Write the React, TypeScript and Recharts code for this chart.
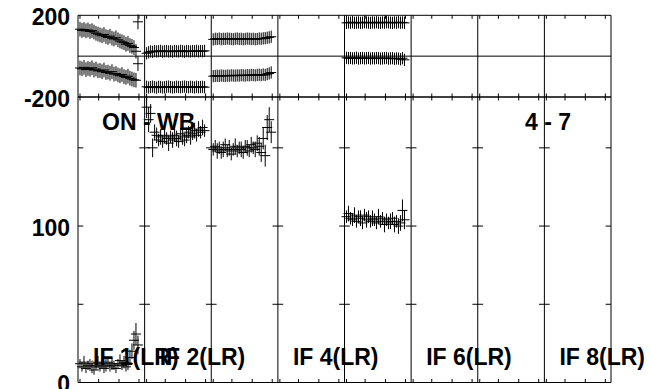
import React from 'react';
import { ScatterChart, Scatter, XAxis, YAxis, ReferenceLine, ErrorBar } from 'recharts';

// ---------- data ----------
const panelNames = ['IF 1', 'IF 2', 'IF 3', 'IF 4', 'IF 5', 'IF 6', 'IF 7', 'IF 8'];
const labelledPanels = [0, 1, 3, 5, 7];
const polarization = '(LR)';
const sourceLabel = 'ON - WB';
const baselineLabel = '4 - 7';

// time of each sample inside an IF panel (fraction of the panel's time range)
const times = [0.03, 0.06, 0.09, 0.12, 0.15, 0.18, 0.21, 0.24, 0.27, 0.3, 0.33, 0.36, 0.39, 0.42, 0.45,
  0.48, 0.51, 0.54, 0.57, 0.6, 0.63, 0.66, 0.69, 0.72, 0.75, 0.78, 0.81, 0.84, 0.87, 0.9];
const timeTicks = [0.03, 0.31, 0.615, 0.915];
const timeHalfWidth = 0.075;

const phaseTicks = [-200, 200];
const ampTicks = [0, 100];
const ampMinorTicks = [50, 100, 150];
const phaseDomain = [-200, 200];
const ampDomain = [0, 182.5];

const if1PhaseA = [132, 126, 130, 124, 128, 121, 125, 118, 112, 108, 104, 100, 106, 96, 92, 98, 88, 84, 90, 80, 74, 70, 66, 58, 62, 52, 48, 42, 24, 168];
const if1PhaseB = [-58, -62, -55, -66, -60, -64, -57, -68, -63, -72, -70, -76, -68, -80, -78, -84, -76, -88, -85, -92, -96, -90, -100, -104, -98, -108, -112, -116, -118, -37];
const if1Amp = [12, 10, 13, 9, 11, 12, 10, 8, 11, 13, 10, 12, 9, 11, 13, 10, 12, 11, 9, 12, 14, 11, 13, 10, 12, 16, 20, 27, 31, 24];
const if1AmpErr = [3, 3, 4, 3, 3, 3, 4, 3, 3, 4, 3, 3, 3, 4, 3, 3, 4, 3, 3, 3, 4, 3, 4, 3, 4, 5, 5, 6, 7, 6];

const if2PhaseA = [14, 19, 23, 21, 25, 23, 24, 26, 22, 24, 25, 23, 24, 22, 25, 24, 23, 26, 24, 22, 25, 24, 23, 25, 24, 26, 23, 25, 24, 26];
const if2PhaseB = [-150, -153, -151, -149, -152, -154, -150, -151, -153, -152, -150, -149, -151, -153, -152, -150, -151, -152, -150, -149, -151, -152, -150, -151, -153, -150, -152, -151, -150, -152];
const if2Amp = [176, 168, 172, 150, 160, 158, 155, 157, 154, 158, 156, 153, 157, 155, 158, 156, 154, 159, 157, 155, 158, 160, 157, 159, 161, 158, 162, 160, 163, 161];
const if2AmpErr = [7, 8, 6, 6, 5, 5, 4, 5, 4, 5, 4, 5, 4, 5, 4, 5, 4, 4, 5, 4, 5, 4, 5, 4, 5, 4, 5, 4, 5, 4];

const if3PhaseA = [82, 85, 84, 86, 83, 85, 84, 86, 85, 84, 83, 85, 86, 84, 85, 83, 84, 86, 85, 84, 85, 83, 84, 86, 85, 87, 88, 90, 92, 95];
const if3PhaseB = [-98, -97, -96, -97, -95, -96, -97, -95, -96, -94, -95, -96, -94, -95, -93, -94, -95, -93, -94, -92, -93, -94, -92, -91, -93, -90, -92, -88, -85, -80];
const if3Amp = [149, 151, 148, 150, 147, 149, 152, 148, 150, 146, 149, 151, 148, 150, 149, 147, 151, 150, 148, 152, 150, 149, 153, 151, 147, 156, 145, 163, 168, 160];
const if3AmpErr = [4, 4, 5, 4, 4, 5, 4, 4, 5, 4, 4, 5, 4, 4, 5, 4, 4, 5, 4, 5, 4, 5, 5, 6, 6, 7, 7, 8, 8, 7];

const if5PhaseA = [163, 165, 164, 166, 163, 164, 165, 163, 164, 166, 165, 164, 163, 165, 164, 166, 164, 163, 165, 164, 166, 165, 164, 163, 165, 164, 166, 164, 165, 163];
const if5PhaseB = [-8, -10, -9, -11, -10, -8, -12, -10, -9, -11, -10, -9, -12, -10, -11, -9, -10, -12, -11, -10, -9, -12, -11, -10, -13, -11, -12, -15, -10, -18];
const if5Amp = [106, 108, 105, 104, 107, 103, 106, 105, 102, 107, 104, 106, 103, 105, 104, 102, 106, 103, 105, 101, 104, 102, 103, 105, 101, 103, 100, 102, 110, 104];
const if5AmpErr = [4, 5, 4, 4, 5, 4, 4, 5, 4, 4, 5, 4, 4, 5, 4, 4, 5, 4, 4, 5, 4, 4, 5, 4, 5, 4, 5, 5, 7, 6];

const phaseErrs = [36, 30, 30, 0, 30, 0, 0, 0];

const series = [
  { panel: 0, phaseA: if1PhaseA, phaseB: if1PhaseB, amp: if1Amp, ampErr: if1AmpErr },
  { panel: 1, phaseA: if2PhaseA, phaseB: if2PhaseB, amp: if2Amp, ampErr: if2AmpErr },
  { panel: 2, phaseA: if3PhaseA, phaseB: if3PhaseB, amp: if3Amp, ampErr: if3AmpErr },
  { panel: 4, phaseA: if5PhaseA, phaseB: if5PhaseB, amp: if5Amp, ampErr: if5AmpErr },
];

// ---------- layout ----------
const W = 651;
const H = 389;
const PLOT_L = 78;
const PLOT_R = 611;
const PHASE_TOP = 15.3;
const PHASE_BOT = 97;
const AMP_BOT = 382.5;
const PANEL_W = (PLOT_R - PLOT_L) / panelNames.length;
const FONT = "'Liberation Sans', Arial, Helvetica, sans-serif";
const NP = panelNames.length;
const TICK_PX = 3.5;

const xTicks: number[] = [];
for (let p = 0; p < NP; p++) for (const f of timeTicks) xTicks.push(p + f);
const boundaries = Array.from({ length: NP + 1 }, (_, i) => i);

function rows(panel: number, vals: number[], errs: number[] | number) {
  return vals.map((v, i) => ({
    x: panel + times[i],
    y: v,
    ex: timeHalfWidth,
    ey: Array.isArray(errs) ? errs[i] : errs,
  }));
}

const YTick = (props: any) => {
  const { x, y, payload } = props;
  return (
    <text x={x} y={y + 9.5} textAnchor="end" fontSize={23} fontWeight="bold" fontFamily={FONT} fill="#000">
      {payload.value}
    </text>
  );
};

const noShape = () => <g />;

function Marks(data: any[], key: string) {
  return (
    <Scatter key={key} data={data} shape={noShape} isAnimationActive={false}>
      <ErrorBar dataKey="ey" direction="y" width={0} stroke="#000" strokeWidth={1} isAnimationActive={false} />
      <ErrorBar dataKey="ex" direction="x" width={0} stroke="#000" strokeWidth={1} isAnimationActive={false} />
    </Scatter>
  );
}

function borderLines() {
  return boundaries.map((b) => <ReferenceLine key={'v' + b} x={b} stroke="#000" strokeWidth={1} />);
}

// small time ticks along a horizontal border, pointing into the plot
function timeTickMarks(yEdge: number, yInner: number, keyPrefix: string) {
  return xTicks.map((t) => (
    <ReferenceLine key={keyPrefix + t} stroke="#000" strokeWidth={1}
      segment={[{ x: t, y: yEdge }, { x: t, y: yInner }]} />
  ));
}

function PhaseChart() {
  const plotH = PHASE_BOT - PHASE_TOP;
  const dy = (TICK_PX / plotH) * (phaseDomain[1] - phaseDomain[0]);
  return (
    <ScatterChart width={W} height={H}
      margin={{ top: PHASE_TOP, left: PLOT_L - 70, right: W - PLOT_R, bottom: H - PHASE_BOT }}>
      <XAxis type="number" dataKey="x" domain={[0, NP]} hide allowDataOverflow />
      <YAxis type="number" dataKey="y" domain={phaseDomain} ticks={phaseTicks} width={70} allowDataOverflow
        tickLine={false} axisLine={false} tickSize={0} tickMargin={8} tick={YTick} interval={0} />
      {borderLines()}
      <ReferenceLine y={200} stroke="#000" />
      <ReferenceLine y={0} stroke="#000" />
      <ReferenceLine y={-200} stroke="#000" />
      {timeTickMarks(phaseDomain[1], phaseDomain[1] - dy, 'pt')}
      {timeTickMarks(phaseDomain[0], phaseDomain[0] + dy, 'pb')}
      {series.map((s) => Marks(rows(s.panel, s.phaseA, phaseErrs[s.panel]), 'pa' + s.panel))}
      {series.map((s) => Marks(rows(s.panel, s.phaseB, phaseErrs[s.panel]), 'pb' + s.panel))}
    </ScatterChart>
  );
}

function AmpChart() {
  const d = 0.08;
  const plotH = AMP_BOT - PHASE_BOT;
  const dy = (TICK_PX / plotH) * (ampDomain[1] - ampDomain[0]);
  return (
    <ScatterChart width={W} height={H}
      margin={{ top: PHASE_BOT, left: PLOT_L - 70, right: W - PLOT_R, bottom: H - AMP_BOT }}>
      <XAxis type="number" dataKey="x" domain={[0, NP]} hide allowDataOverflow />
      <YAxis type="number" dataKey="y" domain={ampDomain} ticks={ampTicks} width={70} allowDataOverflow
        tickLine={false} axisLine={false} tickSize={0} tickMargin={8} tick={YTick} interval={0} />
      {borderLines()}
      <ReferenceLine y={ampDomain[0]} stroke="#000" />
      <ReferenceLine y={ampDomain[1]} stroke="#000" />
      {timeTickMarks(ampDomain[1], ampDomain[1] - dy, 'at')}
      {timeTickMarks(ampDomain[0], ampDomain[0] + dy, 'ab')}
      {boundaries.map((b) =>
        ampMinorTicks.map((v) => (
          <ReferenceLine key={'t' + b + '-' + v} stroke="#000" strokeWidth={1}
            segment={[{ x: Math.max(0, b - d), y: v }, { x: Math.min(NP, b + d), y: v }]} />
        ))
      )}
      {series.map((s) => Marks(rows(s.panel, s.amp, s.ampErr), 'a' + s.panel))}
    </ScatterChart>
  );
}

export default function App() {
  const abs: React.CSSProperties = { position: 'absolute', left: 0, top: 0 };
  return (
    <div style={{ position: 'absolute', left: 0, top: 0, width: W, height: H, background: '#fff', overflow: 'hidden' }}>
      <div style={abs}><PhaseChart /></div>
      <div style={abs}><AmpChart /></div>
      <svg width={W} height={H} style={{ ...abs, pointerEvents: 'none' }}>
        <g fontFamily={FONT} fontWeight="bold" fontSize={23} fill="#000">
          <text x={102} y={130}>{sourceLabel}</text>
          <text x={525} y={130}>{baselineLabel}</text>
          {labelledPanels.map((p) => (
            <text key={p} x={PLOT_L + p * PANEL_W + 15} y={365}>{panelNames[p] + polarization}</text>
          ))}
        </g>
      </svg>
    </div>
  );
}
